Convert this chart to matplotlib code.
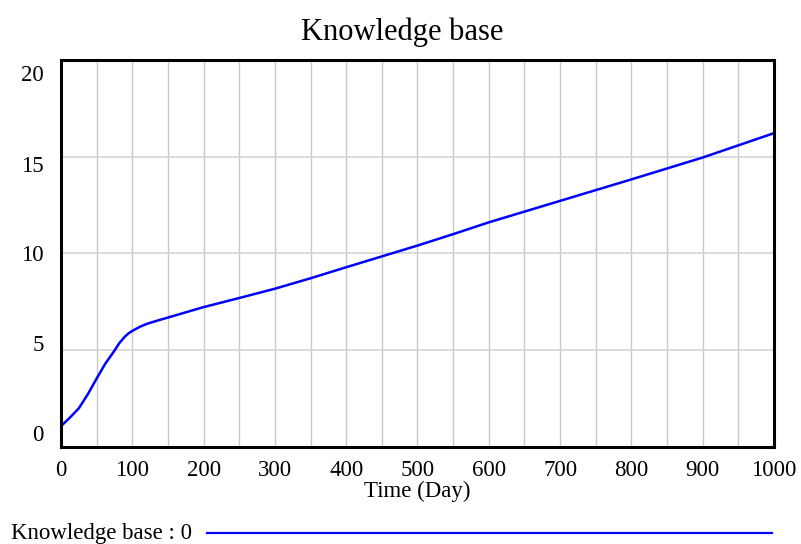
import numpy as np
import matplotlib
matplotlib.use('Agg')
import matplotlib.pyplot as plt
from matplotlib.lines import Line2D
from matplotlib.transforms import ScaledTranslation

# values
days = [0, 12, 25, 38, 50, 62, 75, 82, 90, 95, 100, 110, 120, 135, 150, 200, 250, 300, 350,
        400, 450, 500, 550, 600, 700, 800, 900, 1000]
knowledge = [1.08, 1.5, 2.0, 2.75, 3.54, 4.3, 4.98, 5.38, 5.72, 5.88, 6.0, 6.2, 6.36, 6.53,
             6.69, 7.23, 7.7, 8.18, 8.72, 9.29, 9.85, 10.41, 11.0, 11.61, 12.72, 13.83,
             14.96, 16.22]
xticks = list(range(0, 1001, 100))
yticks = [0, 5, 10, 15, 20]
title = 'Knowledge base'
xlabel = 'Time (Day)'
legend_label = 'Knowledge base : 0'

plt.rcParams['font.family'] = ['Liberation Serif', 'DejaVu Serif']

fig = plt.figure(figsize=(8.01, 5.44), dpi=100)
ax = fig.add_axes([61 / 801, 1 - 447 / 544, (774 - 61) / 801, (447 - 60) / 544])

ax.plot(days, knowledge, color='#0000ff', linewidth=1.8, solid_joinstyle='round')

ax.set_xlim(0, 1000)
ax.set_ylim(0, 20)
ax.set_xticks(xticks)
ax.set_xticks(np.arange(50, 1000, 100), minor=True)
ax.set_yticks(yticks)
ax.grid(True, which='both', axis='x', color='#c8c8c8', linewidth=1.0)
ax.grid(True, which='major', axis='y', color='#d4d4d4', linewidth=1.2)
ax.tick_params(which='both', length=0, labelsize=16.5, pad=9)
ax.tick_params(axis='y', pad=12.5)

for s in ax.spines.values():
    s.set_linewidth(2.2)
    s.set_color('black')

# vensim-style: y labels pushed inward toward the middle
yoff = [14, 7, 0, -7, -13]
for lab, dy in zip(ax.get_yticklabels(), yoff):
    lab.set_transform(lab.get_transform() + ScaledTranslation(0, dy / 100, fig.dpi_scale_trans))

ax.set_xlabel(xlabel, fontsize=16.5, labelpad=0)
fig.text(402 / 801, 1 - 32 / 544, title, fontsize=22, ha='center', va='center')

# legend row at the bottom
fig.text(11 / 801, 1 - 533 / 544, legend_label, fontsize=16.5, ha='left', va='center')
fig.add_artist(Line2D([207 / 801, 772 / 801], [1 - 533 / 544, 1 - 533 / 544],
                      color='#0000ff', linewidth=1.6, transform=fig.transFigure))

fig.savefig('out.png', dpi=100)
